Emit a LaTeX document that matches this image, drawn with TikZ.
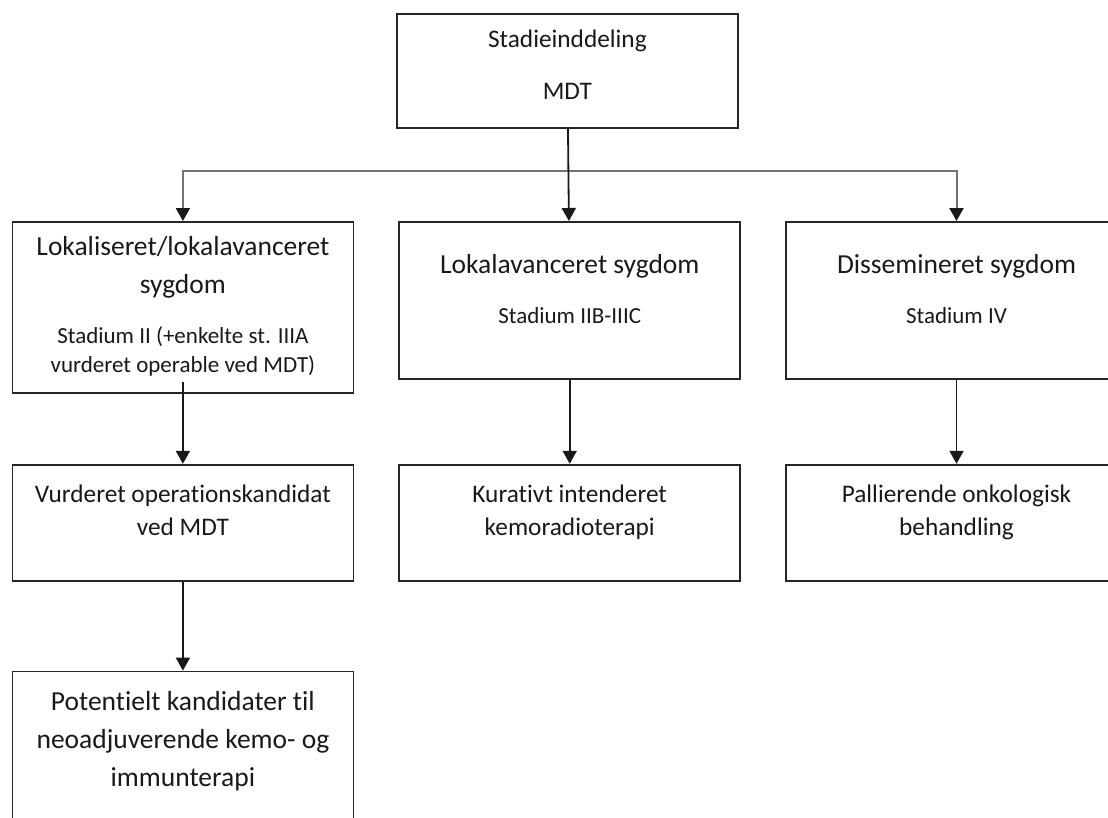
\documentclass[tikz,border=0pt]{standalone}
\usepackage{fontspec}
\setmainfont{Carlito}[Ligatures=NoCommon]
\usetikzlibrary{positioning, arrows.meta}

\newcommand{\bigtxt}{\fontsize{27.5}{38}\selectfont}
\newcommand{\midtxt}{\fontsize{25.3}{33}\selectfont}
\newcommand{\smalltxt}{\fontsize{23}{29}\selectfont}
\newcommand{\boxtext}[2]{\parbox[t][#1][t]{341pt}{\centering #2}}

\begin{document}
\begin{tikzpicture}
    [
        x=1pt, y=-1pt,
        box/.style={rectangle, draw=black!85, text=black!90, line width=1.8pt, inner sep=0pt, anchor=north west},
        arrow_black/.style={-{Triangle[width=14pt, length=13pt]}, line width=1.8pt, color=black!90},
        arrow_grey/.style={-{Triangle[width=14pt, length=13pt, color=black!90]}, line width=2pt, color=black!55},
    ]
        \fill[white] (0,0) rectangle (1108,817) ;
        \clip (0,0) rectangle (1108,817) ;
        \useasboundingbox (0,0) rectangle (1108,817) ;
        \node[box] (stadie) at (396,13) {\boxtext{114pt}{\midtxt\rule{0pt}{34pt}Stadieinddeling\par\vspace{19pt}MDT}} ;
        \node[box] (lokal) at (11.5,221) {\boxtext{171pt}{\bigtxt\rule{0pt}{34pt}Lokaliseret/lokalavanceret\\ sygdom\par\smalltxt\vspace{21pt}Stadium II (+enkelte st. IIIA\\ vurderet operable ved MDT)}} ;
        \node[box, right=44pt of lokal.north east, anchor=north west] (lokav) {\boxtext{157pt}{\bigtxt\rule{0pt}{52pt}Lokalavanceret sygdom\par\smalltxt\vspace{21pt}Stadium IIB-IIIC}} ;
        \node[box, right=44pt of lokav.north east, anchor=north west] (dissem) {\boxtext{157pt}{\bigtxt\rule{0pt}{52pt}Dissemineret sygdom\par\smalltxt\vspace{21pt}Stadium IV}} ;
        \node[box, below=70pt of lokal.south west, anchor=north west] (opkand) {\boxtext{116pt}{\midtxt\rule{0pt}{38pt}Vurderet operationskandidat\\ ved MDT}} ;
        \node[box, below=84pt of lokav.south west, anchor=north west] (kemrad) {\boxtext{116pt}{\midtxt\rule{0pt}{38pt}Kurativt intenderet\\ kemoradioterapi}} ;
        \node[box, below=84pt of dissem.south west, anchor=north west] (palli) {\boxtext{116pt}{\midtxt\rule{0pt}{38pt}Pallierende onkologisk\\ behandling}} ;
        \node[box, below=89pt of opkand.south west, anchor=north west] (neoadj) {\boxtext{200pt}{\bigtxt\rule{0pt}{39pt}Potentielt kandidater til\\ neoadjuverende kemo- og\\ immunterapi}} ;
        \coordinate (split) at (566.5,171) ;
        \draw[arrow_grey] (split) -| (lokal) ;
        \draw[arrow_grey] (split) -| (dissem) ;
        \draw[arrow_black] (stadie) -- (lokav) ;
        \draw[arrow_black, shorten <=-12pt] (lokal) -- (opkand) ;
        \draw[arrow_black] (opkand) -- (neoadj) ;
        \draw[arrow_black] (lokav) -- (kemrad) ;
        \draw[arrow_black] (dissem) -- (palli) ;
    \end{tikzpicture}
\end{document}
